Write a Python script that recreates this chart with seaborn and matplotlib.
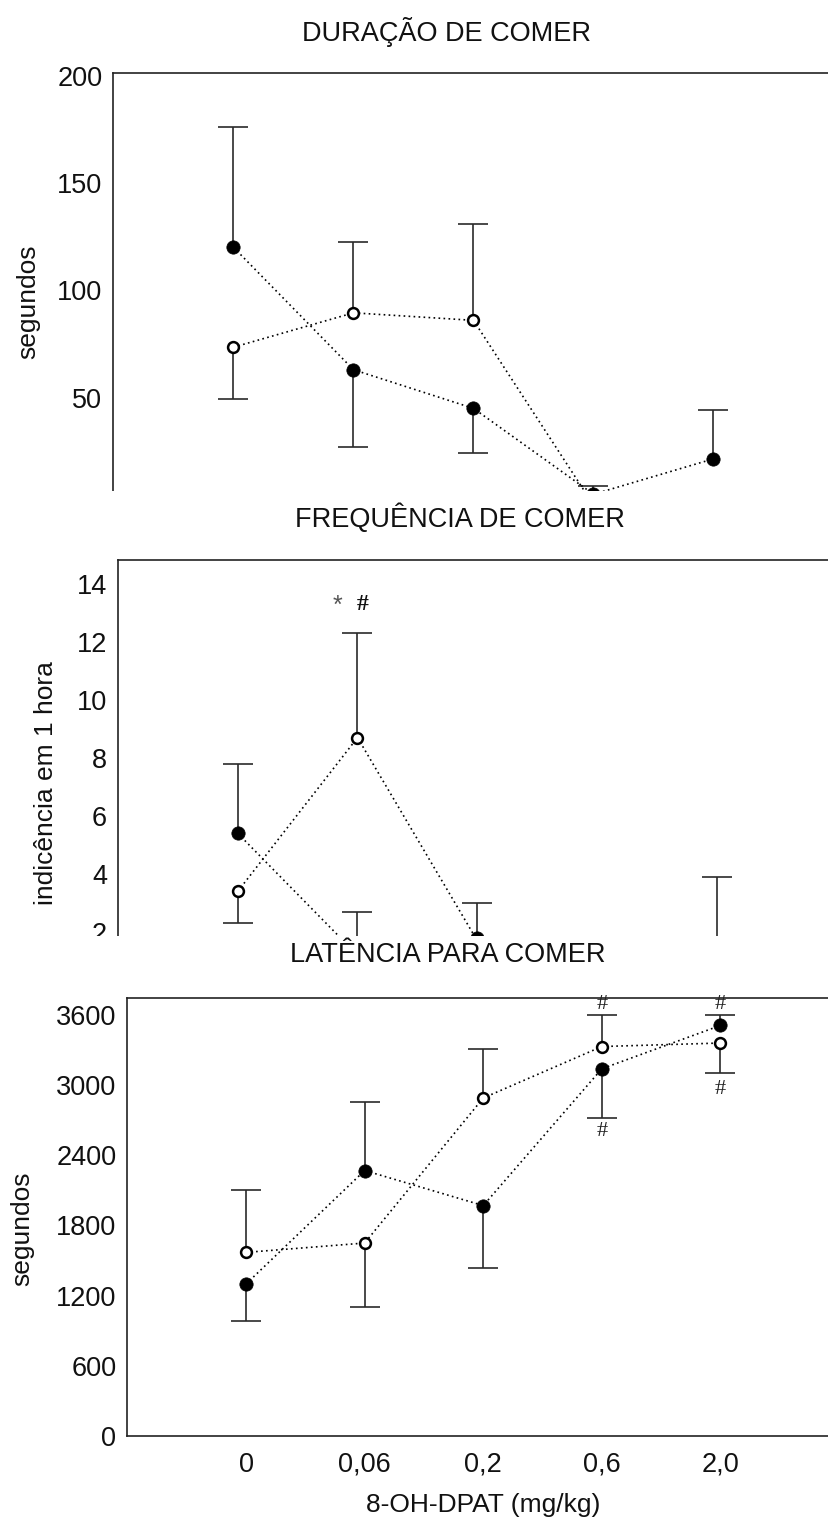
import numpy as np
import pandas as pd
import matplotlib
matplotlib.use("Agg")
import matplotlib.pyplot as plt
from matplotlib.patches import Rectangle
import seaborn as sns

# Doses de 8-OH-DPAT (mg/kg)
doses = ["0", "0,06", "0,2", "0,6", "2,0"]

# Duração de comer (s): média e erro (barra para cima / para baixo)
dur_a = [120, 63, 45, 5, 21.5]
dur_a_sup = [56, 0, 0, 3.8, 22.7]
dur_a_inf = [0, 36, 21, 0, 0]
dur_b = [73.5, 89.5, 86, 0, 0]
dur_b_sup = [0, 33, 45, 0, 0]
dur_b_inf = [24, 0, 0, 0, 0]

# Frequência de comer (indicência em 1 hora)
freq_a = [5.4, 1.2, 1.8, 0.0, 0.5]
freq_a_sup = [2.4, 1.5, 1.2, 0, 0]
freq_a_inf = [0, 0, 0, 0, 0]
freq_b = [3.4, 8.7, 1.7, 0.0, 1.6]
freq_b_sup = [0, 3.6, 0, 0, 2.3]
freq_b_inf = [1.1, 0, 0, 0, 0]

# Latência para comer (s)
lat_a = [1300, 2270, 1970, 3140, 3510]
lat_a_sup = [0, 590, 0, 0, 90]
lat_a_inf = [320, 0, 530, 420, 0]
lat_b = [1570, 1650, 2890, 3330, 3360]
lat_b_sup = [530, 0, 420, 270, 0]
lat_b_inf = [0, 550, 0, 0, 260]

sns.set_style("white")
plt.rcParams["font.family"] = ["Liberation Sans", "DejaVu Sans"]

W, H = 829, 1522
fig = plt.figure(figsize=(W / 100, H / 100), dpi=100)
fig.patch.set_facecolor("white")

pos = np.arange(len(doses))


def make_axes(left, top, right, bottom, z):
    ax = fig.add_axes([left / W, 1 - bottom / H, (right - left) / W, (bottom - top) / H])
    ax.set_zorder(z)
    ax.set_facecolor("white")
    return ax, (left, top, right, bottom)


def frac(box, px, py):
    left, top, right, bottom = box
    return (px - left) / (right - left), 1 - (py - top) / (bottom - top)


def draw_group(ax, media, sup, inf, aberto):
    media, sup, inf = (np.asarray(v, dtype=float) for v in (media, sup, inf))
    for err, para_cima in ((sup, True), (inf, False)):
        sel = err > 0
        if not sel.any():
            continue
        yerr = np.zeros((2, sel.sum()))
        yerr[1 if para_cima else 0] = err[sel]
        cont = ax.errorbar(pos[sel], media[sel], yerr=yerr, fmt="none",
                           ecolor="#2a2a2a", elinewidth=1.2, capsize=10.5,
                           capthick=1.2, zorder=2)
        cont.lines[1][0 if para_cima else 1].set_visible(False)
    df = pd.DataFrame({"dose": pos, "valor": media})
    if aberto:
        mk = dict(marker="o", markersize=7.8, markerfacecolor="white",
                  markeredgecolor="black", markeredgewidth=1.8)
    else:
        mk = dict(marker="o", markersize=9.6, markerfacecolor="black",
                  markeredgecolor="black", markeredgewidth=0.5)
    sns.lineplot(data=df, x="dose", y="valor", ax=ax, color="black",
                 linewidth=1.2, linestyle=(0, (1, 2)), errorbar=None,
                 legend=False, zorder=3, **mk)


def style_axes(ax, box, ylim, yticks, title, title_px, ylabel, ylabel_px):
    ax.set_xlim(-1, 5)
    ax.set_ylim(*ylim)
    ax.set_yticks(yticks)
    ax.tick_params(axis="both", length=0, labelsize=19.5, pad=8, colors="#111")
    for side in ("top", "left", "bottom"):
        ax.spines[side].set_visible(True)
        ax.spines[side].set_color("#222")
        ax.spines[side].set_linewidth(1.2)
    ax.spines["right"].set_visible(False)
    tx, ty = frac(box, *title_px)
    ax.set_title(title, x=tx, y=ty, pad=0, va="center", fontsize=19.5, color="#111")
    ax.set_ylabel(ylabel, fontsize=19, color="#111", va="center")
    lx, ly = frac(box, *ylabel_px)
    ax.yaxis.set_label_coords(lx, ly)
    ax.set_xlabel("")


# Painel 1: duração
ax1, box1 = make_axes(113.5, 73, 833.5, 505, 0)
draw_group(ax1, dur_a, dur_a_sup, dur_a_inf, aberto=False)
draw_group(ax1, dur_b, dur_b_sup, dur_b_inf, aberto=True)
style_axes(ax1, box1, (0, 201.2), [50, 100, 150, 200], "DURAÇÃO DE COMER",
           (447, 32), "segundos", (28, 302))
ax1.set_xticks([])

# Painel 2: frequência
ax2, box2 = make_axes(118, 559.5, 836.5, 990, 1)
draw_group(ax2, freq_a, freq_a_sup, freq_a_inf, aberto=False)
draw_group(ax2, freq_b, freq_b_sup, freq_b_inf, aberto=True)
style_axes(ax2, box2, (0, 14.84), [2, 4, 6, 8, 10, 12, 14], "FREQUÊNCIA DE COMER",
           (460, 518), "indicência em 1 hora", (46, 783))
ax2.set_xticks([])
ax2.text(0.83, 13.25, "*", ha="center", va="center", fontsize=18, color="#555")
ax2.text(1.04, 13.3, "#", ha="center", va="center", fontsize=17,
         fontweight="bold", family="Liberation Serif", color="#111")

# Painel 3: latência
ax3, box3 = make_axes(127.5, 998, 839, 1436, 2)
draw_group(ax3, lat_a, lat_a_sup, lat_a_inf, aberto=False)
draw_group(ax3, lat_b, lat_b_sup, lat_b_inf, aberto=True)
style_axes(ax3, box3, (0, 3745), [0, 600, 1200, 1800, 2400, 3000, 3600],
           "LATÊNCIA PARA COMER", (448, 955), "segundos", (22, 1229))
ax3.set_xticks(pos, doses)
ax3.tick_params(axis="x", pad=11.5)
ax3.set_xlabel("8-OH-DPAT (mg/kg)", fontsize=19, color="#111", va="center")
ax3.xaxis.set_label_coords(0.5, -(1505 - 1436) / (1436 - 998))
for x, y in [(3, 3690), (4, 3690), (3, 2600), (4, 2960)]:
    ax3.text(x, y, "#", ha="center", va="center", fontsize=16,
             family="Liberation Serif", color="#222")

# Faixas brancas onde cada painel é cortado pelo seguinte
fig.patches.append(Rectangle((0, 1 - 545 / H), 1, (545 - 491) / H,
                             transform=fig.transFigure, facecolor="white",
                             edgecolor="none", zorder=0.5))
fig.patches.append(Rectangle((0, 1 - 996 / H), 1, (996 - 936) / H,
                             transform=fig.transFigure, facecolor="white",
                             edgecolor="none", zorder=1.5))

fig.savefig("out.png", dpi=100)
